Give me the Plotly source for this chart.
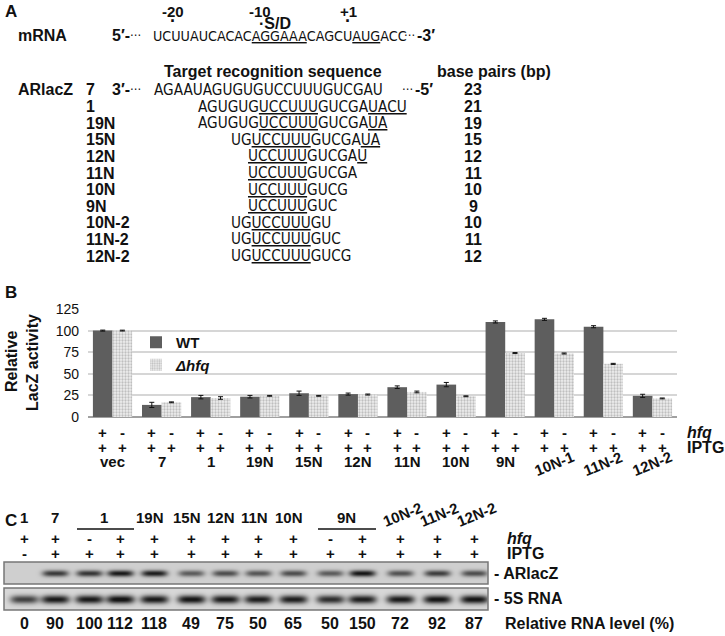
import numpy as np
import plotly.graph_objects as go

W, H = 725, 636
FONT = 'Liberation Sans, Arial, sans-serif'
NARROW = 'DejaVu Sans Condensed, Liberation Sans Narrow, Arial Narrow, Liberation Sans, sans-serif'

# ---- panel A: sequences ----
mrna_seq = 'UCUUAUCACAC<u>AGGAAA</u>CAGCU<u>AUG</u>ACC'
rna_names = ['7', '1', '19N', '15N', '12N', '11N', '10N', '9N', '10N-2', '11N-2', '12N-2']
rna_seqs = ['AGAAUAGUGUGUCCUUUGUCGAU',
            'AGUGUG<u>UCCUUU</u>GUCGA<u>UACU</u>',
            'AGUGUG<u>UCCUUU</u>GUCGA<u>UA</u>',
            'UG<u>UCCUUU</u>GUCGA<u>UA</u>',
            '<u>UCCUUU</u>GUCGA<u>U</u>',
            '<u>UCCUUU</u>GUCGA',
            '<u>UCCUUU</u>GUCG',
            '<u>UCCUUU</u>GUC',
            'UG<u>UCCUUU</u>GU',
            'UG<u>UCCUUU</u>GUC',
            'UG<u>UCCUUU</u>GUCG']
base_pairs = [23, 21, 19, 15, 12, 11, 10, 9, 10, 11, 12]

# ---- panel B: LacZ activity ----
groups = ['vec', '7', '1', '19N', '15N', '12N', '11N', '10N', '9N', '10N-1', '11N-2', '12N-2']
wt = [100, 14, 23, 23.5, 27.5, 26.5, 34.5, 37.5, 110, 113, 104.5, 24.5]
wt_err = [0.6, 3, 2, 1.5, 2.5, 1.2, 1.5, 2.5, 1.2, 1.2, 1.2, 1.8]
dhfq = [100, 17, 22, 24.5, 24.5, 26, 29, 24, 74, 73.5, 61.5, 21.5]
dhfq_err = [0.5, 0.5, 1.5, 0.5, 0.5, 0.6, 1, 0.5, 0.6, 0.6, 0.6, 0.5]

# ---- panel C: northern blot ----
lane_hfq = ['+', '+', '-', '+', '+', '+', '+', '+', '+', '-', '+', '+', '+', '+']
lane_iptg = ['-', '+', '+', '+', '+', '+', '+', '+', '+', '+', '+', '+', '+', '+']
lane_headers = [('1', [0]), ('7', [1]), ('1', [2, 3]), ('19N', [4]), ('15N', [5]),
                ('12N', [6]), ('11N', [7]), ('10N', [8]), ('9N', [9, 10]),
                ('10N-2', [11]), ('11N-2', [12]), ('12N-2', [13])]
arlacz_band = [0, 0.72, 0.74, 0.88, 0.86, 0.55, 0.62, 0.58, 0.62, 0.55, 0.9, 0.6, 0.7, 0.62]
s5_band = [0.72, 0.92, 0.92, 0.98, 0.92, 0.95, 0.92, 0.9, 0.9, 0.82, 0.9, 0.92, 0.95, 0.95]
rel_level = [0, 90, 100, 112, 118, 49, 75, 50, 65, 50, 150, 72, 92, 87]

lane_x = [24, 55, 89, 120, 154, 191, 225, 258, 293, 330, 362, 400, 437, 474]


def px(x):
    return x / W


def py(y):
    return 1 - y / H


annots = []


def txt(x, y, s, size=16, bold=True, anchor='center', font=FONT, angle=0, color='#111', xref='paper'):
    annots.append(dict(x=px(x) if xref == 'paper' else x, y=py(y), xref=xref, yref='paper',
                       text='<b>%s</b>' % s if bold else s, showarrow=False,
                       xanchor=anchor, yanchor='middle', textangle=angle,
                       font=dict(family=font, size=size, color=color)))


fig = go.Figure()

# panel A
txt(3, 11, 'A', 17, anchor='left')
txt(173, 11, '-20', 15)
txt(260, 11, '-10', 15)
txt(348, 11, '+1', 15)
txt(173, 21, '·', 18)
txt(348, 21, '·', 18)
txt(257, 24, '·S/D', 16, anchor='left')
txt(16, 36, 'mRNA', 16, anchor='left')
txt(110, 36, '5′-', 16, anchor='left')
txt(128, 36, '···', 13, bold=False, anchor='left', font=NARROW)
txt(151, 36, mrna_seq, 14.2, bold=False, anchor='left', font=NARROW)
txt(402, 36, '···', 13, bold=False, anchor='left', font=NARROW)
txt(415, 36, '-3′', 16, anchor='left')

txt(273, 72, 'Target recognition sequence', 16)
txt(494, 72, 'base pairs (bp)', 16)
txt(16, 90, 'ARlacZ', 16, anchor='left')
txt(110, 90, '3′-', 16, anchor='left')
txt(128, 90, '···', 13, bold=False, anchor='left', font=NARROW)
txt(400, 90, '···', 13, bold=False, anchor='left', font=NARROW)
txt(413, 90, '-5′', 16, anchor='left')

seq_start = [152, 196, 196, 229, 246, 246, 246, 246, 229, 229, 229]
for i, (nm, sq, bp) in enumerate(zip(rna_names, rna_seqs, base_pairs)):
    yy = 90 + 16.6 * i
    txt(84, yy, nm, 16, anchor='left')
    txt(seq_start[i], yy, sq, 15.2, bold=False, anchor='left', font=NARROW)
    txt(473, yy, str(bp), 16)

# panel B bars
xs = list(range(len(groups)))
fig.add_trace(go.Bar(x=xs, y=wt, name='<b>WT</b>', marker=dict(color='#5e5e5e', line=dict(width=0)),
                     error_y=dict(type='data', array=wt_err, color='#111', thickness=1, width=2.5)))
fig.add_trace(go.Bar(x=xs, y=dhfq, name='<b><i>Δhfq</i></b>',
                     marker=dict(color='#eeeeee', line=dict(width=0),
                                 pattern=dict(shape='.', fgcolor='#8f8f8f', size=3, solidity=0.45)),
                     error_y=dict(type='data', array=dhfq_err, color='#111', thickness=1, width=2.5)))

txt(3, 292, 'B', 17, anchor='left')
txt(11, 362, 'Relative', 16, angle=-90)
txt(32, 362, 'LacZ activity', 16, angle=-90)
for i, g in enumerate(groups):
    for k, off in enumerate([-0.2, 0.2]):
        txt(i + off, 432, '+' if k == 0 else '-', 15, xref='x')
        txt(i + off, 447, '+', 15, xref='x')
    if i < 9:
        txt(i, 462, g, 15, xref='x')
    else:
        txt(i, 464, g, 15, xref='x', angle=-22)
txt(685, 432, '<i>hfq</i>', 16, anchor='left')
txt(685, 447, 'IPTG', 16, anchor='left')

# panel C
txt(3, 520, 'C', 17, anchor='left')
shapes = []
for lab, ln in lane_headers:
    xc = sum(lane_x[j] for j in ln) / len(ln)
    if lab.endswith('-2'):
        txt(xc + 2, 514, lab, 15, angle=-22)
    else:
        txt(xc - (4 if len(lab) == 3 else 0), 517, lab, 15)
    if len(ln) > 1:
        shapes.append(dict(type='line', xref='paper', yref='paper',
                           x0=px(lane_x[ln[0]] - 12), x1=px(lane_x[ln[-1]] + 14),
                           y0=py(529), y1=py(529), line=dict(color='#111', width=1.5)))
for j in range(len(lane_x)):
    txt(lane_x[j], 538, lane_hfq[j], 15)
    txt(lane_x[j], 553, lane_iptg[j], 15)
    txt(lane_x[j], 623, str(rel_level[j]), 16)
txt(505, 538, '<i>hfq</i>', 16, anchor='left')
txt(505, 553, 'IPTG', 16, anchor='left')
txt(492, 573, '- ARlacZ', 16, anchor='left')
txt(492, 598, '- 5S RNA', 16, anchor='left')
txt(503, 623, 'Relative RNA level (%)', 16, anchor='left')


def gel(bands, y0, y1, yc, hw, hh, bg):
    gx = np.arange(4, 489, 1.0)
    gy = np.arange(y0, y1 + 1, 1.0)
    X, Y = np.meshgrid(gx, gy)
    z = np.full(X.shape, bg)
    for xc, a in zip(lane_x, bands):
        z = z + a * np.exp(-((X - xc) / hw) ** 4 - ((Y - yc) / hh) ** 2)
    return gx, gy, np.clip(z, 0, 1)


gel_scale = [[0, '#e4e4e4'], [0.5, '#7a7a7a'], [1, '#151515']]
gx, gy, z = gel(arlacz_band, 562, 584, 573, 13, 3.2, 0.1)
fig.add_trace(go.Heatmap(x=gx, y=gy, z=z, colorscale=gel_scale, zmin=0, zmax=1, showscale=False,
                         hoverinfo='skip', xaxis='x2', yaxis='y2'))
gx, gy, z = gel(s5_band, 588, 610, 599, 14, 4.2, 0.06)
fig.add_trace(go.Heatmap(x=gx, y=gy, z=z, colorscale=gel_scale, zmin=0, zmax=1, showscale=False,
                         hoverinfo='skip', xaxis='x3', yaxis='y3'))
for a, b in [(562, 584), (588, 610)]:
    shapes.append(dict(type='rect', xref='paper', yref='paper', x0=px(4), x1=px(488),
                       y0=py(b), y1=py(a), line=dict(color='#777', width=1.5)))

hidden = dict(visible=False, showgrid=False, zeroline=False)
fig.update_layout(
    width=W, height=H, margin=dict(l=0, r=0, t=0, b=0, pad=0, autoexpand=False),
    paper_bgcolor='white', plot_bgcolor='white',
    barmode='group', bargap=0.2, bargroupgap=0,
    xaxis=dict(domain=[px(88), px(677)], range=[-0.5, 11.5], showticklabels=False,
               showgrid=False, zeroline=False, ticks='', automargin=False),
    yaxis=dict(domain=[py(417), py(309)], range=[0, 125], tickvals=[0, 25, 50, 75, 100, 125],
               showgrid=True, gridcolor='#d6d6d6', gridwidth=1.5, zeroline=True,
               zerolinecolor='#a0a0a0', zerolinewidth=1.5, automargin=False,
               tickfont=dict(family=FONT, size=14, color='#111'), ticklabelstandoff=8),
    xaxis2=dict(domain=[px(4), px(488)], range=[4, 488], **hidden),
    yaxis2=dict(domain=[py(584), py(562)], range=[584, 562], **hidden),
    xaxis3=dict(domain=[px(4), px(488)], range=[4, 488], anchor='y3', **hidden),
    yaxis3=dict(domain=[py(610), py(588)], range=[610, 588], anchor='x3', **hidden),
    legend=dict(x=px(136), y=py(326), xanchor='left', yanchor='top', bgcolor='rgba(0,0,0,0)',
                font=dict(family=FONT, size=15, color='#111'), itemwidth=30, tracegroupgap=2),
    annotations=annots, shapes=shapes, showlegend=True,
)
fig.layout.yaxis.tickprefix = '<b>'
fig.layout.yaxis.ticksuffix = '</b>'
# pagina sin margen para que la figura quede en (0, 0)
fig.write_html('out.html', config={'displayModeBar': False},
               post_script="document.body.style.margin='0px';")
